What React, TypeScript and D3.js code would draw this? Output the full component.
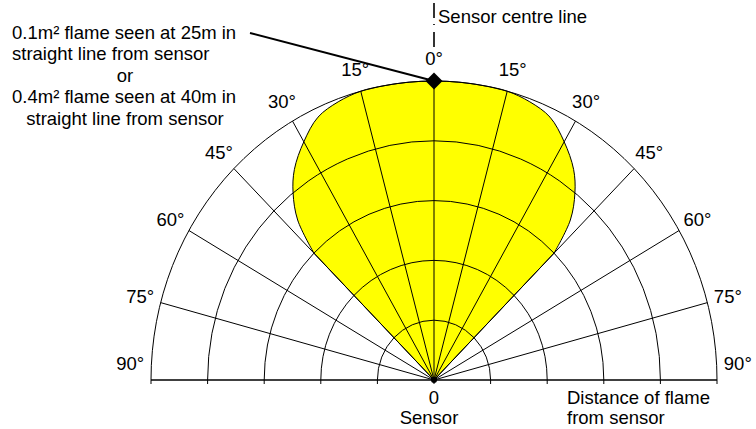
import React from "react";
import * as d3 from "d3";

// ---- data ----
const ringDistances = [20, 40, 60, 80, 100]; // % of max detection distance
const spokeAngles = [-90, -75, -60, -45, -30, -15, 0, 15, 30, 45, 60, 75, 90];
const angleLabels = ["90°", "75°", "60°", "45°", "30°", "15°", "0°", "15°", "30°", "45°", "60°", "75°", "90°"];
// lobe boundary (angle in degrees, distance in %)
const lobeAngles = [-45, -42, -38.5, -35, -30, -25, -20, -15, -10, -5, 0, 5, 10, 15, 20, 25, 30, 35, 38.5, 42, 45];
const lobeDistances = [60, 72, 80, 86, 92, 97, 99, 100, 100, 100, 100, 100, 100, 100, 99, 97, 92, 86, 80, 72, 60];
const noteLines = [
  "0.1m² flame seen at 25m in",
  "straight line from sensor",
  "or",
  "0.4m² flame seen at 40m in",
  "straight line from sensor",
];
const markerDistance = 100;

const W = 756;
const H = 429;
const cx = 434;
const cy = 380;
const FONT = "'Liberation Sans', Arial, Helvetica, sans-serif";

const sx = d3.scaleLinear().domain([0, 100]).range([0, 283]);
const sy = d3.scaleLinear().domain([0, 100]).range([0, 299]);
const rad = (a: number) => (a * Math.PI) / 180;
const pt = (a: number, r: number): [number, number] => [
  cx + sx(r) * Math.sin(rad(a)),
  cy - sy(r) * Math.cos(rad(a)),
];

export default function App() {
  const lobePts = lobeAngles.map((a, i) => pt(a, lobeDistances[i]));
  const curve = d3.line().curve(d3.curveCatmullRom.alpha(0.5))(lobePts) || "";
  const lobePath = `M${cx},${cy}L` + curve.slice(1) + "Z";

  const ringPath = (r: number) =>
    `M${cx - sx(r)},${cy}A${sx(r)},${sy(r)} 0 0 1 ${cx + sx(r)},${cy}`;

  const [mx, my] = pt(0, markerDistance);
  const d = 8.5;

  return (
    <svg
      width={W}
      height={H}
      style={{ position: "absolute", left: 0, top: 0, background: "#fff" }}
      fontFamily={FONT}
    >
      {/* lobe */}
      <path d={lobePath} fill="#ffff00" stroke="#000" strokeWidth={1} />

      {/* rings */}
      {ringDistances.map((r) => (
        <g key={r}>
          <path d={ringPath(r)} fill="none" stroke="#000" strokeWidth={1} />
          <line x1={cx - sx(r)} x2={cx - sx(r)} y1={cy} y2={cy + 4} stroke="#000" />
          <line x1={cx + sx(r)} x2={cx + sx(r)} y1={cy} y2={cy + 4} stroke="#000" />
        </g>
      ))}

      {/* spokes */}
      {spokeAngles.map((a) => {
        const [x, y] = pt(a, 100);
        return <line key={a} x1={cx} y1={cy} x2={x} y2={y} stroke="#000" strokeWidth={Math.abs(a) === 90 ? 1.5 : 1} />;
      })}
      <line x1={cx} x2={cx} y1={cy} y2={cy + 4} stroke="#000" />
      <circle cx={cx} cy={cy} r={3} fill="#000" />

      {/* angle labels */}
      {spokeAngles.map((a, i) => {
        const aa = Math.sign(a) * Math.min(Math.abs(a), 87);
        const [x, y] = pt(aa, 107.5);
        return (
          <text key={i} x={x} y={y} textAnchor="middle" dominantBaseline="central" fontSize={18.5} fill="#000">
            {angleLabels[i]}
          </text>
        );
      })}

      {/* sensor centre line */}
      <line x1={cx} x2={cx} y1={3} y2={49} stroke="#000" strokeWidth={1.6} strokeDasharray="15,6,1,7" />
      <text x={438} y={23} fontSize={18.5} fill="#000">Sensor centre line</text>

      {/* leader + marker */}
      <line x1={250} y1={33} x2={mx} y2={my} stroke="#000" strokeWidth={2} />
      <path
        d={`M${mx},${my - d}L${mx + d},${my}L${mx},${my + d}L${mx - d},${my}Z`}
        fill="#000"
      />

      {/* note */}
      {noteLines.map((t, i) => (
        <text
          key={i}
          x={i === 2 || i === 4 ? 125 : 12}
          y={38.5 + i * 21.5}
          textAnchor={i === 2 || i === 4 ? "middle" : "start"}
          fontSize={18.5}
          fill="#000"
        >
          {t}
        </text>
      ))}

      {/* bottom labels */}
      <text x={cx} y={403.5} textAnchor="middle" fontSize={18.5} fill="#000">0</text>
      <text x={cx - 5} y={423.5} textAnchor="middle" fontSize={18.5} fill="#000">Sensor</text>
      <text x={567} y={403.5} fontSize={18.5} fill="#000">Distance of flame</text>
      <text x={567} y={423.5} fontSize={18.5} fill="#000">from sensor</text>
    </svg>
  );
}
